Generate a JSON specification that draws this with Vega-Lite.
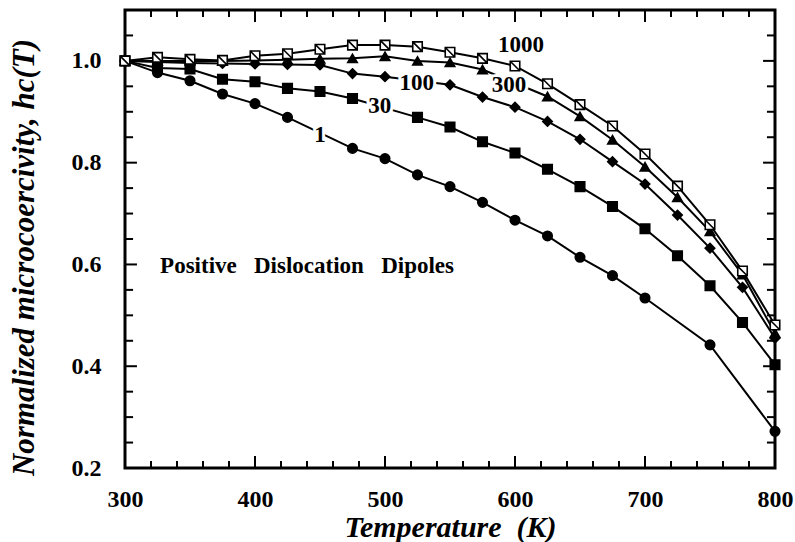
{
  "$schema": "https://vega.github.io/schema/vega-lite/v6.json",
  "width": 650,
  "height": 458,
  "autosize": {"type": "none"},
  "padding": {"left": 125, "top": 10, "right": 20, "bottom": 74},
  "background": "white",
  "config": {
    "view": {"stroke": "black", "strokeWidth": 3},
    "font": "Liberation Serif",
    "axis": {"domain": false, "grid": false, "ticks": false, "labelColor": "black", "titleColor": "black"}
  },
  "datasets": {
    "series": [
      {"s": "1", "T": 300, "v": 1.0}, {"s": "1", "T": 325, "v": 0.977}, {"s": "1", "T": 350, "v": 0.961}, {"s": "1", "T": 375, "v": 0.935},
      {"s": "1", "T": 400, "v": 0.916}, {"s": "1", "T": 425, "v": 0.889}, {"s": "1", "T": 475, "v": 0.828}, {"s": "1", "T": 500, "v": 0.808},
      {"s": "1", "T": 525, "v": 0.776}, {"s": "1", "T": 550, "v": 0.753}, {"s": "1", "T": 575, "v": 0.722}, {"s": "1", "T": 600, "v": 0.687},
      {"s": "1", "T": 625, "v": 0.656}, {"s": "1", "T": 650, "v": 0.614}, {"s": "1", "T": 675, "v": 0.578}, {"s": "1", "T": 700, "v": 0.534},
      {"s": "1", "T": 750, "v": 0.442}, {"s": "1", "T": 800, "v": 0.272},
      {"s": "30", "T": 300, "v": 1.0}, {"s": "30", "T": 325, "v": 0.986}, {"s": "30", "T": 350, "v": 0.984}, {"s": "30", "T": 375, "v": 0.964},
      {"s": "30", "T": 400, "v": 0.959}, {"s": "30", "T": 425, "v": 0.946}, {"s": "30", "T": 450, "v": 0.94}, {"s": "30", "T": 475, "v": 0.926},
      {"s": "30", "T": 525, "v": 0.889}, {"s": "30", "T": 550, "v": 0.87}, {"s": "30", "T": 575, "v": 0.841}, {"s": "30", "T": 600, "v": 0.819},
      {"s": "30", "T": 625, "v": 0.787}, {"s": "30", "T": 650, "v": 0.753}, {"s": "30", "T": 675, "v": 0.714}, {"s": "30", "T": 700, "v": 0.67},
      {"s": "30", "T": 725, "v": 0.617}, {"s": "30", "T": 750, "v": 0.558}, {"s": "30", "T": 775, "v": 0.486}, {"s": "30", "T": 800, "v": 0.403},
      {"s": "100", "T": 300, "v": 1.0}, {"s": "100", "T": 325, "v": 0.998}, {"s": "100", "T": 350, "v": 0.996}, {"s": "100", "T": 375, "v": 0.995},
      {"s": "100", "T": 400, "v": 0.994}, {"s": "100", "T": 425, "v": 0.993}, {"s": "100", "T": 450, "v": 0.992}, {"s": "100", "T": 475, "v": 0.975},
      {"s": "100", "T": 500, "v": 0.969}, {"s": "100", "T": 550, "v": 0.953}, {"s": "100", "T": 575, "v": 0.929}, {"s": "100", "T": 600, "v": 0.909},
      {"s": "100", "T": 625, "v": 0.881}, {"s": "100", "T": 650, "v": 0.846}, {"s": "100", "T": 675, "v": 0.802}, {"s": "100", "T": 700, "v": 0.758},
      {"s": "100", "T": 725, "v": 0.697}, {"s": "100", "T": 750, "v": 0.632}, {"s": "100", "T": 775, "v": 0.555}, {"s": "100", "T": 800, "v": 0.455},
      {"s": "300", "T": 300, "v": 1.0}, {"s": "300", "T": 325, "v": 1.0}, {"s": "300", "T": 350, "v": 1.0}, {"s": "300", "T": 375, "v": 1.0},
      {"s": "300", "T": 400, "v": 1.001}, {"s": "300", "T": 425, "v": 1.002}, {"s": "300", "T": 450, "v": 1.004}, {"s": "300", "T": 475, "v": 1.005},
      {"s": "300", "T": 500, "v": 1.009}, {"s": "300", "T": 525, "v": 1.0}, {"s": "300", "T": 550, "v": 0.997}, {"s": "300", "T": 575, "v": 0.983},
      {"s": "300", "T": 625, "v": 0.93}, {"s": "300", "T": 650, "v": 0.891}, {"s": "300", "T": 675, "v": 0.845}, {"s": "300", "T": 700, "v": 0.792},
      {"s": "300", "T": 725, "v": 0.732}, {"s": "300", "T": 750, "v": 0.665}, {"s": "300", "T": 775, "v": 0.58}, {"s": "300", "T": 800, "v": 0.465},
      {"s": "1000", "T": 300, "v": 1.0}, {"s": "1000", "T": 325, "v": 1.007}, {"s": "1000", "T": 350, "v": 1.003}, {"s": "1000", "T": 375, "v": 1.001},
      {"s": "1000", "T": 400, "v": 1.01}, {"s": "1000", "T": 425, "v": 1.014}, {"s": "1000", "T": 450, "v": 1.023}, {"s": "1000", "T": 475, "v": 1.031},
      {"s": "1000", "T": 500, "v": 1.031}, {"s": "1000", "T": 525, "v": 1.028}, {"s": "1000", "T": 550, "v": 1.017}, {"s": "1000", "T": 575, "v": 1.005},
      {"s": "1000", "T": 600, "v": 0.99}, {"s": "1000", "T": 625, "v": 0.955}, {"s": "1000", "T": 650, "v": 0.914}, {"s": "1000", "T": 675, "v": 0.872},
      {"s": "1000", "T": 700, "v": 0.817}, {"s": "1000", "T": 725, "v": 0.754}, {"s": "1000", "T": 750, "v": 0.678}, {"s": "1000", "T": 775, "v": 0.587},
      {"s": "1000", "T": 800, "v": 0.481}
    ],
    "labels": [
      {"t": "1", "T": 450, "v": 0.855},
      {"t": "30", "T": 496, "v": 0.912},
      {"t": "100", "T": 524.4, "v": 0.956},
      {"t": "300", "T": 595.4, "v": 0.953},
      {"t": "1000", "T": 604.6, "v": 1.031}
    ],
    "note": [
      {"t": "Positive\u00a0\u00a0\u00a0Dislocation\u00a0\u00a0\u00a0Dipoles", "T": 327, "v": 0.597}
    ],
    "xmajor": [{"T": 400}, {"T": 500}, {"T": 600}, {"T": 700}],
    "xminor": [{"T": 320}, {"T": 340}, {"T": 360}, {"T": 380}, {"T": 420}, {"T": 440}, {"T": 460}, {"T": 480}, {"T": 520}, {"T": 540}, {"T": 560}, {"T": 580}, {"T": 620}, {"T": 640}, {"T": 660}, {"T": 680}, {"T": 720}, {"T": 740}, {"T": 760}, {"T": 780}],
    "ymajor": [{"v": 0.4}, {"v": 0.6}, {"v": 0.8}, {"v": 1.0}],
    "yminor": [{"v": 0.25}, {"v": 0.3}, {"v": 0.35}, {"v": 0.45}, {"v": 0.5}, {"v": 0.55}, {"v": 0.65}, {"v": 0.7}, {"v": 0.75}, {"v": 0.85}, {"v": 0.9}, {"v": 0.95}, {"v": 1.05}]
  },
  "layer": [
    {
      "data": {"name": "series"},
      "mark": {"type": "line", "color": "black", "strokeWidth": 2},
      "encoding": {
        "x": {
          "field": "T", "type": "quantitative",
          "scale": {"domain": [300, 800], "nice": false, "zero": false},
          "axis": {
            "orient": "bottom",
            "values": [300, 400, 500, 600, 700, 800],
            "labelPadding": 19,
            "labelFontSize": 24, "labelFontWeight": "bold", "labelFlush": false, "labelOverlap": false,
            "title": "Temperature\u00a0\u00a0(K)",
            "titleFontSize": 30, "titleFontWeight": "bold", "titleFontStyle": "italic",
            "titleBaseline": "alphabetic", "titleY": 68
          }
        },
        "y": {
          "field": "v", "type": "quantitative",
          "scale": {"domain": [0.2, 1.1], "nice": false, "zero": false},
          "axis": {
            "orient": "left",
            "values": [0.2, 0.4, 0.6, 0.8, 1.0],
            "format": ".1f",
            "labelPadding": 24,
            "labelFontSize": 24, "labelFontWeight": "bold", "labelFlush": false, "labelOverlap": false,
            "title": "Normalized microcoercivity, hc(T)",
            "titleFontSize": 31, "titleFontWeight": "bold", "titleFontStyle": "italic",
            "titleBaseline": "alphabetic", "titleX": -92, "titleY": 247
          }
        },
        "detail": {"field": "s"}
      }
    },
    {
      "data": {"name": "xmajor"},
      "mark": {"type": "rule", "color": "black", "strokeWidth": 2},
      "encoding": {"x": {"field": "T", "type": "quantitative"}, "y": {"datum": 0.2}, "y2": {"datum": 0.2236}}
    },
    {
      "data": {"name": "xmajor"},
      "mark": {"type": "rule", "color": "black", "strokeWidth": 2},
      "encoding": {"x": {"field": "T", "type": "quantitative"}, "y": {"datum": 1.1}, "y2": {"datum": 1.0764}}
    },
    {
      "data": {"name": "xminor"},
      "mark": {"type": "rule", "color": "black", "strokeWidth": 2},
      "encoding": {"x": {"field": "T", "type": "quantitative"}, "y": {"datum": 0.2}, "y2": {"datum": 0.2138}}
    },
    {
      "data": {"name": "xminor"},
      "mark": {"type": "rule", "color": "black", "strokeWidth": 2},
      "encoding": {"x": {"field": "T", "type": "quantitative"}, "y": {"datum": 1.1}, "y2": {"datum": 1.0862}}
    },
    {
      "data": {"name": "ymajor"},
      "mark": {"type": "rule", "color": "black", "strokeWidth": 2},
      "encoding": {"y": {"field": "v", "type": "quantitative"}, "x": {"datum": 300}, "x2": {"datum": 309.2}}
    },
    {
      "data": {"name": "ymajor"},
      "mark": {"type": "rule", "color": "black", "strokeWidth": 2},
      "encoding": {"y": {"field": "v", "type": "quantitative"}, "x": {"datum": 800}, "x2": {"datum": 790.8}}
    },
    {
      "data": {"name": "yminor"},
      "mark": {"type": "rule", "color": "black", "strokeWidth": 2},
      "encoding": {"y": {"field": "v", "type": "quantitative"}, "x": {"datum": 300}, "x2": {"datum": 306.2}}
    },
    {
      "data": {"name": "yminor"},
      "mark": {"type": "rule", "color": "black", "strokeWidth": 2},
      "encoding": {"y": {"field": "v", "type": "quantitative"}, "x": {"datum": 800}, "x2": {"datum": 793.8}}
    },
    {
      "data": {"name": "series"},
      "mark": {"type": "point", "stroke": "black", "strokeWidth": 1.6, "opacity": 1, "fillOpacity": 1, "size": 90},
      "encoding": {
        "x": {"field": "T", "type": "quantitative"},
        "y": {"field": "v", "type": "quantitative"},
        "shape": {
          "field": "s", "type": "nominal", "legend": null,
          "scale": {"domain": ["1", "30", "100", "300", "1000"], "range": ["circle", "square", "diamond", "triangle-up", "M-1,-1L1,-1L1,1L-1,1Z M-1,-1L1,1"]}
        },
        "fill": {
          "field": "s", "type": "nominal", "legend": null,
          "scale": {"domain": ["1", "30", "100", "300", "1000"], "range": ["black", "black", "black", "black", "white"]}
        }
      }
    },
    {
      "data": {"name": "labels"},
      "mark": {"type": "text", "font": "Liberation Serif", "fontWeight": "bold", "fontSize": 23, "align": "center", "baseline": "middle", "fill": "white", "stroke": "white", "strokeWidth": 6},
      "encoding": {
        "x": {"field": "T", "type": "quantitative"},
        "y": {"field": "v", "type": "quantitative"},
        "text": {"field": "t"}
      }
    },
    {
      "data": {"name": "labels"},
      "mark": {"type": "text", "font": "Liberation Serif", "fontWeight": "bold", "fontSize": 23, "align": "center", "baseline": "middle", "color": "black"},
      "encoding": {
        "x": {"field": "T", "type": "quantitative"},
        "y": {"field": "v", "type": "quantitative"},
        "text": {"field": "t"}
      }
    },
    {
      "data": {"name": "note"},
      "mark": {"type": "text", "font": "Liberation Serif", "fontWeight": "bold", "fontSize": 23, "align": "left", "baseline": "middle", "color": "black"},
      "encoding": {
        "x": {"field": "T", "type": "quantitative"},
        "y": {"field": "v", "type": "quantitative"},
        "text": {"field": "t"}
      }
    }
  ]
}
